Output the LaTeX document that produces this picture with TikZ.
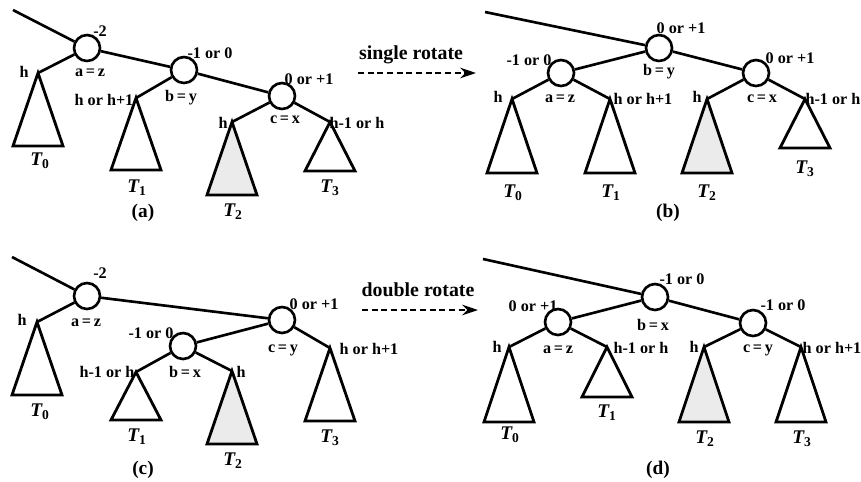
\documentclass[tikz,border=0pt]{standalone}
\usepackage{fontspec}
\setmainfont{Liberation Serif}
\usetikzlibrary{arrows.meta}
\definecolor{shadefill}{HTML}{EBEBEB}
\tikzset{
    avl/.style={draw, circle, line width=1.5pt, minimum size=0.52cm, inner sep=0pt},
    link/.style={line width=1.5pt},
    subtree/.style={line width=1.6pt, line join=miter},
    shaded/.style={subtree, fill=shadefill},
    lbl/.style={font=\fontsize{9.2}{11}\selectfont\bfseries, inner sep=0pt},
    tname/.style={font=\fontsize{11}{13}\selectfont\bfseries\itshape, inner sep=0pt},
    caption/.style={font=\fontsize{11}{13}\selectfont\bfseries, inner sep=0pt},
    opname/.style={font=\fontsize{11.3}{13}\selectfont\bfseries, inner sep=0pt},
    rotarrow/.style={-{Stealth[length=9pt, width=6pt]}, line width=1.6pt, dash pattern=on 3.5pt off 2pt},
}

\begin{document}
\begin{tikzpicture}[x=0.02cm, y=-0.02cm]
\useasboundingbox (0,0) rectangle (861,481);

% ============================================================
% (a) before single rotate
% ============================================================
\coordinate (rootA) at (13,10);
\node[avl] (aA) at (87,48) {};
\node[avl] (bA) at (184,70) {};
\node[avl] (cA) at (282,96) {};
\coordinate (t0A) at (38,73);
\coordinate (t1A) at (136,98);
\coordinate (t2A) at (232,122);
\coordinate (t3A) at (330,122);

\draw[link] (rootA) -- (aA);
\draw[link] (aA) -- (bA);
\draw[link] (bA) -- (cA);
\draw[link] (aA) -- (t0A);
\draw[link] (bA) -- (t1A);
\draw[link] (cA) -- (t2A);
\draw[link] (cA) -- (t3A);

\draw[subtree] (t0A) -- ++(-25,73) -- ++(50,0) -- cycle;
\draw[subtree] (t1A) -- ++(-25,72) -- ++(50,0) -- cycle;
\draw[shaded] (t2A) -- ++(-25,73) -- ++(50,0) -- cycle;
\draw[subtree] (t3A) -- ++(-25,49) -- ++(50,0) -- cycle;

\node[tname] (n0A) at (40,161) {T\textsubscript{\upshape 0}};
\node[tname] (n1A) at (137,188) {T\textsubscript{\upshape 1}};
\node[tname] (n2A) at (233,212) {T\textsubscript{\upshape 2}};
\node[tname] (n3A) at (330,188) {T\textsubscript{\upshape 3}};

\node[lbl] (balaA) at (100,31) {-2};
\node[lbl] (keyaA) at (90,73) {a\,=\,z};
\node[lbl] (h0A) at (24,72) {h};
\node[lbl] (balbA) at (210,53) {-1 or 0};
\node[lbl] (keybA) at (181,98) {b\,=\,y};
\node[lbl] (h1A) at (104,100) {h or h+1};
\node[lbl] (balcA) at (309,79) {0 or +1};
\node[lbl] (keycA) at (285,120) {c\,=\,x};
\node[lbl] (h2A) at (223,123) {h};
\node[lbl] (h3A) at (357,123) {h-1 or h};
\node[caption] (capA) at (143,213) {(a)};

% single rotate arrow
\node[opname] (single) at (411,55) {single rotate};
\coordinate (sfrom) at (358,73);
\coordinate (sto) at (476,73);
\draw[rotarrow] (sfrom) -- (sto);

% ============================================================
% (b) after single rotate
% ============================================================
\coordinate (rootB) at (485,12);
\node[avl] (bB) at (659,48) {};
\node[avl] (aB) at (561,73) {};
\node[avl] (cB) at (756,73) {};
\coordinate (t0B) at (512,99);
\coordinate (t1B) at (610,99);
\coordinate (t2B) at (707,99);
\coordinate (t3B) at (805,99);

\draw[link] (rootB) -- (bB);
\draw[link] (bB) -- (aB);
\draw[link] (bB) -- (cB);
\draw[link] (aB) -- (t0B);
\draw[link] (aB) -- (t1B);
\draw[link] (cB) -- (t2B);
\draw[link] (cB) -- (t3B);

\draw[subtree] (t0B) -- ++(-25,74) -- ++(50,0) -- cycle;
\draw[subtree] (t1B) -- ++(-25,74) -- ++(50,0) -- cycle;
\draw[shaded] (t2B) -- ++(-25,74) -- ++(50,0) -- cycle;
\draw[subtree] (t3B) -- ++(-25,49) -- ++(50,0) -- cycle;

\node[tname] (n0B) at (513,193) {T\textsubscript{\upshape 0}};
\node[tname] (n1B) at (611,193) {T\textsubscript{\upshape 1}};
\node[tname] (n2B) at (707,193) {T\textsubscript{\upshape 2}};
\node[tname] (n3B) at (805,169) {T\textsubscript{\upshape 3}};

\node[lbl] (balbB) at (681,28) {0 or +1};
\node[lbl] (keybB) at (659,72) {b\,=\,y};
\node[lbl] (balaB) at (529,60) {-1 or 0};
\node[lbl] (keyaB) at (560,99) {a\,=\,z};
\node[lbl] (h0B) at (498,97) {h};
\node[lbl] (h1B) at (643,99) {h or h+1};
\node[lbl] (balcB) at (790,58) {0 or +1};
\node[lbl] (keycB) at (762,99) {c\,=\,x};
\node[lbl] (h2B) at (697,97) {h};
\node[lbl] (h3B) at (833,99) {h-1 or h};
\node[caption] (capB) at (668,213) {(b)};

% ============================================================
% (c) before double rotate
% ============================================================
\coordinate (rootC) at (12,257);
\node[avl] (aC) at (87,296) {};
\node[avl] (cC) at (282,320) {};
\node[avl] (bC) at (183,346) {};
\coordinate (t0C) at (37,322);
\coordinate (t1C) at (136,372);
\coordinate (t2C) at (232,371);
\coordinate (t3C) at (330,348);

\draw[link] (rootC) -- (aC);
\draw[link] (aC) -- (cC);
\draw[link] (cC) -- (bC);
\draw[link] (aC) -- (t0C);
\draw[link] (bC) -- (t1C);
\draw[link] (bC) -- (t2C);
\draw[link] (cC) -- (t3C);

\draw[subtree] (t0C) -- ++(-25,73) -- ++(50,0) -- cycle;
\draw[subtree] (t1C) -- ++(-25,48) -- ++(50,0) -- cycle;
\draw[shaded] (t2C) -- ++(-25,73) -- ++(50,0) -- cycle;
\draw[subtree] (t3C) -- ++(-25,73) -- ++(50,0) -- cycle;

\node[tname] (n0C) at (40,412) {T\textsubscript{\upshape 0}};
\node[tname] (n1C) at (137,437) {T\textsubscript{\upshape 1}};
\node[tname] (n2C) at (233,461) {T\textsubscript{\upshape 2}};
\node[tname] (n3C) at (330,438) {T\textsubscript{\upshape 3}};

\node[lbl] (balaC) at (100,273) {-2};
\node[lbl] (keyaC) at (86,323) {a\,=\,z};
\node[lbl] (h0C) at (22,320) {h};
\node[lbl] (balcC) at (314,304) {0 or +1};
\node[lbl] (keycC) at (283,350) {c\,=\,y};
\node[lbl] (h3C) at (369,349) {h or h+1};
\node[lbl] (balbC) at (151,333) {-1 or 0};
\node[lbl] (keybC) at (185,372) {b\,=\,x};
\node[lbl] (h1C) at (107,372) {h-1 or h};
\node[lbl] (h2C) at (241,372) {h};
\node[caption] (capC) at (143,470) {(c)};

% double rotate arrow
\node[opname] (double) at (418,290) {double rotate};
\coordinate (dfrom) at (362,310);
\coordinate (dto) at (478,310);
\draw[rotarrow] (dfrom) -- (dto);

% ============================================================
% (d) after double rotate
% ============================================================
\coordinate (rootD) at (483,259);
\node[avl] (bD) at (655,297) {};
\node[avl] (aD) at (558,322) {};
\node[avl] (cD) at (753,323) {};
\coordinate (t0D) at (509,347);
\coordinate (t1D) at (607,347);
\coordinate (t2D) at (704,347);
\coordinate (t3D) at (801,347);

\draw[link] (rootD) -- (bD);
\draw[link] (bD) -- (aD);
\draw[link] (bD) -- (cD);
\draw[link] (aD) -- (t0D);
\draw[link] (aD) -- (t1D);
\draw[link] (cD) -- (t2D);
\draw[link] (cD) -- (t3D);

\draw[subtree] (t0D) -- ++(-25,75) -- ++(50,0) -- cycle;
\draw[subtree] (t1D) -- ++(-25,50) -- ++(50,0) -- cycle;
\draw[shaded] (t2D) -- ++(-25,75) -- ++(50,0) -- cycle;
\draw[subtree] (t3D) -- ++(-25,75) -- ++(50,0) -- cycle;

\node[tname] (n0D) at (510,435) {T\textsubscript{\upshape 0}};
\node[tname] (n1D) at (607,413) {T\textsubscript{\upshape 1}};
\node[tname] (n2D) at (705,439) {T\textsubscript{\upshape 2}};
\node[tname] (n3D) at (802,439) {T\textsubscript{\upshape 3}};

\node[lbl] (balbD) at (682,279) {-1 or 0};
\node[lbl] (keybD) at (653,325) {b\,=\,x};
\node[lbl] (balaD) at (533,306) {0 or +1};
\node[lbl] (keyaD) at (558,350) {a\,=\,z};
\node[lbl] (h0D) at (497,347) {h};
\node[lbl] (h1D) at (641,348) {h-1 or h};
\node[lbl] (balcD) at (783,305) {-1 or 0};
\node[lbl] (keycD) at (758,350) {c\,=\,y};
\node[lbl] (h2D) at (694,347) {h};
\node[lbl] (h3D) at (832,348) {h or h+1};
\node[caption] (capD) at (658,470) {(d)};

\end{tikzpicture}
\end{document}
